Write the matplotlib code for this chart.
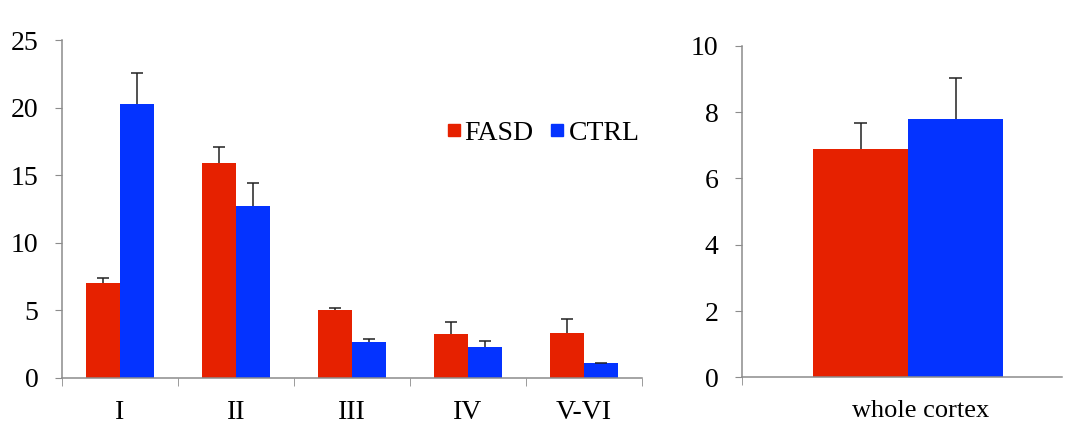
import matplotlib
matplotlib.use("Agg")
import matplotlib.pyplot as plt
from matplotlib.lines import Line2D
import numpy as np

# ---- data ----
layers = ["I", "II", "III", "IV", "V-VI"]
fasd = [7.0, 15.9, 5.03, 3.23, 3.3]
fasd_err = [0.4, 1.2, 0.17, 0.91, 1.1]
ctrl = [20.27, 12.72, 2.64, 2.27, 1.1]
ctrl_err = [2.3, 1.7, 0.26, 0.44, 0.0]

whole_label = ["whole cortex"]
whole_fasd = [6.9]
whole_fasd_err = [0.76]
whole_ctrl = [7.8]
whole_ctrl_err = [1.22]

series_names = ["FASD", "CTRL"]
RED = "#E62100"
BLUE = "#0433FF"
SPINE = "#8c8c8c"
ERR = "#222222"

plt.rcParams["font.family"] = ["Liberation Serif", "DejaVu Serif"]

fig = plt.figure(figsize=(10.66, 4.26), dpi=100)
ax1 = fig.add_axes([0.0582, 0.1127, 0.544, 0.793])
ax2 = fig.add_axes([0.696, 0.1143, 0.300, 0.778])


def upper_err(ax, xs, vals, errs, cap):
    xs = np.asarray(xs, float)
    vals = np.asarray(vals, float)
    tops = vals + np.asarray(errs, float)
    ax.vlines(xs, vals, tops, color=ERR, linewidth=1.1, zorder=3)
    ax.hlines(tops, xs - cap, xs + cap, color=ERR, linewidth=1.1, zorder=3)


# ---- left panel ----
x = np.arange(len(layers))
w = 0.29
ax1.bar(x - w / 2, fasd, w, color=RED, zorder=2)
ax1.bar(x + w / 2, ctrl, w, color=BLUE, zorder=2)
upper_err(ax1, x - w / 2, fasd, fasd_err, 0.052)
upper_err(ax1, x + w / 2, ctrl, ctrl_err, 0.052)
ax1.set_xlim(-0.5, len(layers) - 0.5)
ax1.set_ylim(0, 25)
ax1.set_yticks([0, 5, 10, 15, 20, 25])
ax1.set_xticks(x)
ax1.set_xticklabels(layers)
ax1.set_xticks(np.arange(-0.5, len(layers), 1.0), minor=True)
ax1.tick_params(axis="x", which="major", length=0, pad=16, labelsize=20)
ax1.tick_params(axis="x", which="minor", length=6, color=SPINE, direction="out")
ax1.tick_params(axis="y", length=5, color=SPINE, labelsize=20, pad=12)

handles = [Line2D([0], [0], marker="s", linestyle="", color=RED, markersize=9),
           Line2D([0], [0], marker="s", linestyle="", color=BLUE, markersize=9)]
ax1.legend(handles, series_names, loc="center left", bbox_to_anchor=(0.62, 0.725),
           ncol=2, frameon=False, fontsize=20, handlelength=0.5,
           handletextpad=0.15, columnspacing=0.6)

# ---- right panel ----
w2 = 0.297
ax2.bar([-w2 / 2], whole_fasd, w2, color=RED, zorder=2)
ax2.bar([w2 / 2], whole_ctrl, w2, color=BLUE, zorder=2)
upper_err(ax2, [-w2 / 2], whole_fasd, whole_fasd_err, 0.02)
upper_err(ax2, [w2 / 2], whole_ctrl, whole_ctrl_err, 0.02)
ax2.set_xlim(-0.52, 0.48)
ax2.set_ylim(0, 10)
ax2.set_yticks([0, 2, 4, 6, 8, 10])
ax2.set_xticks([0.04])
ax2.set_xticklabels(whole_label)
ax2.set_xticks([-0.52], minor=True)
ax2.tick_params(axis="x", which="major", length=0, pad=16, labelsize=19)
ax2.tick_params(axis="x", which="minor", length=6, color=SPINE, direction="out")
ax2.tick_params(axis="y", length=5, color=SPINE, labelsize=20, pad=12)

for ax in (ax1, ax2):
    for s in ("top", "right"):
        ax.spines[s].set_visible(False)
    for s in ("left", "bottom"):
        ax.spines[s].set_color(SPINE)
        ax.spines[s].set_linewidth(1.1)

fig.savefig("out.png", dpi=100)
